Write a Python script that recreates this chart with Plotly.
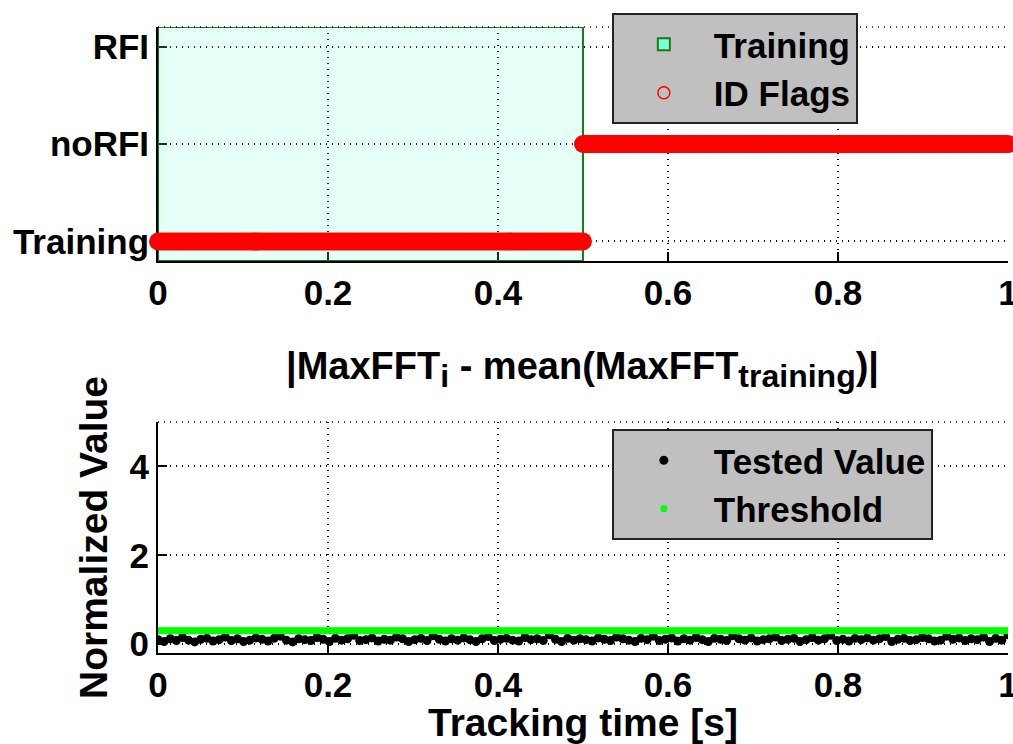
import numpy as np
import plotly.graph_objects as go

# ---------------- data ----------------
flag_labels = ["Training", "noRFI", "RFI"]
flag_codes = [0, 1, 2]
# (start time, end time, flag code)
flag_seg_start = [0.0, 0.5]
flag_seg_end = [0.5, 1.0]
flag_seg_code = [0, 1]
training_start, training_end = 0.0, 0.5

tested_values = [0.10,0.06,0.12,0.08,0.15,0.09,0.05,0.11,0.13,0.07,
                 0.10,0.16,0.08,0.12,0.06,0.09,0.14,0.11,0.07,0.13,
                 0.18,0.09,0.05,0.12,0.10,0.08,0.15,0.11,0.06,0.13,
                 0.09,0.12,0.20,0.08,0.10,0.14,0.07,0.11,0.09,0.16,
                 0.12,0.06,0.10,0.13,0.08,0.19,0.11,0.07,0.12,0.09,
                 0.14,0.10,0.06,0.12,0.17,0.08,0.11,0.13,0.09,0.07,
                 0.15,0.10,0.12,0.08,0.21,0.11,0.06,0.13,0.09,0.12,
                 0.10,0.07,0.14,0.11,0.08,0.16,0.12,0.09,0.06,0.13,
                 0.10,0.18,0.08,0.11,0.14,0.07,0.12,0.09,0.15,0.10,
                 0.06,0.13,0.11,0.08,0.19,0.12,0.09,0.14,0.07,0.10,
                 0.12,0.16,0.08,0.11,0.13,0.06,0.10,0.15,0.09,0.12,
                 0.20,0.08,0.11,0.07,0.13,0.10,0.14,0.09,0.12,0.17,
                 0.06,0.11,0.13,0.08,0.10,0.15,0.12,0.07,0.09,0.18,
                 0.11,0.14,0.08,0.12,0.10,0.16,0.06,0.13,0.09,0.21]
threshold_value = 0.3
x_ticks = [0, 0.2, 0.4, 0.6, 0.8, 1]
x_tick_text = ["0", "0.2", "0.4", "0.6", "0.8", "1"]
y2_ticks = [0, 2, 4]

# ---------------- figure ----------------
FONT = "Liberation Sans"
GREEN_EDGE = "#1a7a1a"
fig = go.Figure()

# training region (top)
fig.add_trace(go.Scatter(
    x=[training_start, training_end, training_end, training_start, training_start],
    y=[-0.2, -0.2, 2.2, 2.2, -0.2], mode="lines", fill="toself",
    fillcolor="rgba(127,255,212,0.2)", line=dict(color=GREEN_EDGE, width=2),
    showlegend=False, xaxis="x", yaxis="y", hoverinfo="skip"))
# legend proxy for training (a bar placed outside the visible range)
fig.add_trace(go.Bar(
    x=[5], y=[1], marker=dict(color="#7fffd4", line=dict(color=GREEN_EDGE, width=2)),
    name="Training", legend="legend", xaxis="x", yaxis="y", hoverinfo="skip"))

# ID flags
flag_x, flag_y = [], []
for s, e, c in zip(flag_seg_start, flag_seg_end, flag_seg_code):
    n = int(round((e - s) * 400)) + 1
    xs = np.linspace(s, e, n)
    flag_x.extend(xs.tolist())
    flag_y.extend([c] * n)
fig.add_trace(go.Scatter(
    x=flag_x, y=flag_y, mode="markers",
    marker=dict(color="red", size=18, line=dict(width=0)),
    showlegend=False, xaxis="x", yaxis="y", cliponaxis=False))
fig.add_trace(go.Scatter(
    x=[None], y=[None], mode="markers", name="ID Flags", legend="legend",
    marker=dict(symbol="circle-open", color="red", size=12, line=dict(width=1.5)),
    xaxis="x", yaxis="y"))

# bottom: tested values and threshold
t = np.linspace(0, 1, len(tested_values))
t_dense = np.linspace(0, 1, 400)
fig.add_trace(go.Scatter(
    x=t, y=tested_values, mode="markers", name="Tested Value", legend="legend2",
    marker=dict(color="black", size=9), xaxis="x2", yaxis="y2"))
fig.add_trace(go.Scatter(
    x=t_dense, y=[threshold_value] * len(t_dense), mode="markers", name="Threshold",
    legend="legend2", marker=dict(color="#00ff00", size=7), xaxis="x2", yaxis="y2"))

TICK_SIZE = 35
tickfont = dict(family=FONT, size=TICK_SIZE, color="black", weight="bold")
axis_common = dict(
    showgrid=True, gridcolor="black", griddash="1px,5px", gridwidth=1.5,
    ticks="inside", ticklen=9, tickcolor="black", tickwidth=2,
    showline=True, linecolor="black", linewidth=2, zeroline=False,
    tickfont=tickfont, mirror=False, automargin=False, layer="below traces",
    ticklabeloverflow="allow")
title_font = dict(family=FONT, size=39, color="black", weight="bold")
legend_font = dict(family=FONT, size=TICK_SIZE, color="black", weight="bold")

fig.update_layout(
    width=1013, height=744, margin=dict(l=0, r=0, t=0, b=0),
    paper_bgcolor="white", plot_bgcolor="white",
    xaxis=dict(domain=[0.156, 0.995], range=[0, 1], anchor="y",
               tickvals=x_ticks, ticktext=x_tick_text, **axis_common),
    yaxis=dict(domain=[0.6492, 0.9637], range=[-0.2, 2.2], anchor="x",
               tickvals=flag_codes, ticktext=flag_labels, **axis_common),
    xaxis2=dict(domain=[0.156, 0.995], range=[0, 1], anchor="y2",
                tickvals=x_ticks, ticktext=x_tick_text,
                title=dict(text="Tracking time [s]", standoff=0, font=title_font),
                **axis_common),
    yaxis2=dict(domain=[0.1223, 0.4328], range=[-0.2, 5], anchor="x2",
                tickvals=y2_ticks,
                title=dict(text="Normalized Value", standoff=10, font=title_font),
                **axis_common),
    legend=dict(x=0.604, y=0.9825, xanchor="left", yanchor="top",
                bgcolor="#c0c0c0", bordercolor="#222222", borderwidth=2,
                font=legend_font, traceorder="normal", itemwidth=90,
                tracegroupgap=0),
    legend2=dict(x=0.604, y=0.4234, xanchor="left", yanchor="top",
                 bgcolor="#c0c0c0", bordercolor="#222222", borderwidth=2,
                 font=legend_font, traceorder="normal", itemwidth=90,
                 tracegroupgap=0),
    annotations=[dict(
        text="|MaxFFT<sub><span style='font-size:32px'>i</span></sub> - mean(MaxFFT<sub><span style='font-size:32px'>training</span></sub>)|",
        xref="paper", yref="paper", x=0.575, y=0.468, xanchor="center", yanchor="bottom",
        showarrow=False, font=dict(family=FONT, size=38, color="black", weight="bold"))],
    shapes=[
        dict(type="line", xref="x domain", yref="y domain", x0=0, x1=1, y0=1, y1=1,
             line=dict(color="black", width=1.5, dash="1px,5px")),
        dict(type="line", xref="x2 domain", yref="y2 domain", x0=0, x1=1, y0=1, y1=1,
             line=dict(color="black", width=1.5, dash="1px,5px")),
    ],
)

fig.write_html("out.html")
